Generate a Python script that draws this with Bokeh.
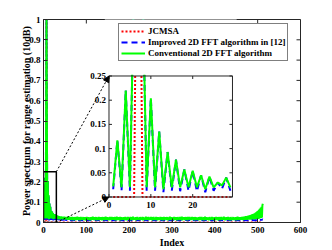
import numpy as np
from bokeh.plotting import figure
from bokeh.models import (Range1d, FixedTicker, Legend, LegendItem,
                          Arrow, NormalHead)
from bokeh.core.properties import value
from bokeh.embed import file_html
from bokeh.resources import INLINE

# ---------------- data ----------------
index = list(range(1, 513))

conventional_fft = [
    # 1-29 (main lobe + side lobes)
    0.022, 0.117, 0.020, 0.220, 0.020, 0.450, 1.000, 0.450, 0.020, 0.204,
    0.020, 0.135, 0.016, 0.093, 0.020, 0.077, 0.020, 0.057, 0.020, 0.054,
    0.020, 0.045, 0.016, 0.042, 0.020, 0.030, 0.024, 0.040, 0.020,
    # 30-60
    0.036, 0.018, 0.034, 0.017, 0.033, 0.019, 0.031, 0.016, 0.030, 0.018,
    0.029, 0.015, 0.030, 0.017, 0.028, 0.016, 0.027, 0.018, 0.029, 0.015,
    0.026, 0.017, 0.028, 0.014, 0.027, 0.016, 0.025, 0.015, 0.027, 0.013,
    0.026,
    # 61-460 noise floor
    0.025,0.014,0.027,0.012,0.023,0.015,0.028,0.013,0.024,0.011,0.026,0.016,0.022,0.013,0.027,0.012,0.025,0.015,0.029,0.014,
    0.023,0.012,0.026,0.015,0.024,0.011,0.028,0.014,0.022,0.013,0.025,0.016,0.027,0.012,0.023,0.014,0.026,0.011,0.024,0.015,
    0.028,0.013,0.022,0.014,0.026,0.012,0.025,0.016,0.023,0.011,0.027,0.014,0.024,0.013,0.029,0.015,0.022,0.012,0.026,0.014,
    0.024,0.016,0.027,0.011,0.025,0.013,0.023,0.015,0.028,0.012,0.022,0.014,0.026,0.016,0.024,0.011,0.027,0.013,0.025,0.012,
    0.026,0.015,0.023,0.012,0.029,0.014,0.024,0.013,0.026,0.016,0.022,0.011,0.025,0.014,0.028,0.012,0.023,0.015,0.027,0.013,
    0.022,0.014,0.026,0.013,0.024,0.015,0.027,0.011,0.025,0.014,0.029,0.012,0.023,0.016,0.026,0.013,0.024,0.011,0.028,0.015,
    0.027,0.012,0.025,0.016,0.022,0.013,0.026,0.014,0.024,0.012,0.028,0.015,0.025,0.011,0.023,0.014,0.027,0.016,0.022,0.013,
    0.025,0.011,0.028,0.014,0.023,0.015,0.026,0.012,0.029,0.013,0.024,0.016,0.022,0.014,0.026,0.011,0.025,0.013,0.027,0.015,
    0.023,0.016,0.024,0.012,0.027,0.014,0.022,0.013,0.025,0.015,0.028,0.011,0.026,0.014,0.024,0.016,0.023,0.012,0.029,0.013,
    0.026,0.013,0.022,0.015,0.028,0.012,0.025,0.014,0.023,0.016,0.027,0.013,0.024,0.011,0.026,0.015,0.028,0.014,0.022,0.012,
    0.024,0.015,0.027,0.013,0.022,0.011,0.026,0.016,0.025,0.014,0.023,0.012,0.028,0.015,0.024,0.013,0.027,0.011,0.025,0.016,
    0.028,0.012,0.024,0.014,0.026,0.015,0.022,0.013,0.027,0.011,0.025,0.016,0.023,0.014,0.029,0.012,0.024,0.015,0.026,0.013,
    0.022,0.014,0.025,0.016,0.028,0.012,0.024,0.013,0.026,0.015,0.022,0.011,0.027,0.014,0.025,0.016,0.023,0.012,0.028,0.014,
    0.025,0.013,0.029,0.011,0.023,0.016,0.026,0.014,0.024,0.012,0.027,0.015,0.022,0.013,0.026,0.011,0.028,0.016,0.024,0.014,
    0.027,0.015,0.023,0.012,0.025,0.014,0.028,0.016,0.022,0.013,0.026,0.011,0.024,0.015,0.027,0.012,0.023,0.014,0.025,0.016,
    0.023,0.011,0.026,0.015,0.027,0.013,0.024,0.012,0.028,0.016,0.025,0.014,0.022,0.011,0.026,0.015,0.029,0.013,0.023,0.012,
    0.026,0.016,0.022,0.013,0.024,0.011,0.027,0.015,0.025,0.012,0.023,0.014,0.028,0.016,0.022,0.013,0.025,0.011,0.027,0.015,
    0.024,0.012,0.028,0.014,0.026,0.016,0.023,0.011,0.027,0.015,0.024,0.013,0.026,0.012,0.028,0.014,0.022,0.016,0.025,0.013,
    0.029,0.014,0.025,0.011,0.022,0.015,0.026,0.013,0.024,0.016,0.028,0.012,0.023,0.015,0.025,0.011,0.027,0.014,0.024,0.012,
    0.023,0.015,0.027,0.012,0.025,0.014,0.022,0.016,0.026,0.011,0.024,0.013,0.029,0.015,0.023,0.012,0.026,0.014,0.025,0.013,
    # 461-512 rise at the end of the spectrum
    0.026,0.013,0.027,0.014,0.028,0.012,0.029,0.015,0.029,0.013,
    0.030,0.014,0.031,0.013,0.032,0.015,0.033,0.014,0.034,0.015,
    0.035,0.014,0.037,0.016,0.038,0.015,0.040,0.016,0.041,0.015,
    0.043,0.017,0.045,0.016,0.048,0.018,0.051,0.017,0.055,0.019,
    0.058,0.018,0.062,0.020,0.067,0.021,0.072,0.022,0.078,0.024,
    0.084,0.092,
]

improved_fft = [
    # 1-29
    0.016, 0.117, 0.013, 0.220, 0.013, 0.450, 1.000, 0.450, 0.013, 0.204,
    0.013, 0.135, 0.010, 0.093, 0.013, 0.077, 0.012, 0.057, 0.013, 0.054,
    0.012, 0.045, 0.010, 0.042, 0.013, 0.030, 0.017, 0.040, 0.013,
    # 30-60
    0.034, 0.011, 0.032, 0.010, 0.030, 0.012, 0.028, 0.010, 0.026, 0.011,
    0.024, 0.010, 0.022, 0.011, 0.020, 0.010, 0.018, 0.011, 0.017, 0.010,
    0.016, 0.011, 0.015, 0.010, 0.014, 0.011, 0.013, 0.010, 0.013, 0.011,
    0.012,
    # 61-500
    0.012,0.011,0.012,0.010,0.013,0.011,0.012,0.011,0.011,0.010,0.012,0.011,0.013,0.011,0.012,0.010,0.012,0.011,0.012,0.011,
    0.011,0.010,0.012,0.011,0.012,0.011,0.013,0.010,0.012,0.011,0.011,0.010,0.012,0.012,0.011,0.010,0.012,0.011,0.013,0.011,
    0.012,0.010,0.011,0.011,0.013,0.012,0.011,0.010,0.012,0.011,0.012,0.010,0.011,0.011,0.013,0.011,0.012,0.010,0.011,0.012,
    0.013,0.011,0.012,0.010,0.011,0.011,0.012,0.012,0.013,0.010,0.011,0.011,0.012,0.010,0.012,0.011,0.013,0.011,0.011,0.010,
    0.012,0.011,0.011,0.012,0.013,0.010,0.012,0.011,0.012,0.011,0.011,0.010,0.013,0.011,0.012,0.012,0.011,0.010,0.012,0.011,
    0.011,0.012,0.013,0.010,0.012,0.011,0.011,0.011,0.012,0.010,0.013,0.012,0.011,0.010,0.012,0.011,0.012,0.011,0.013,0.010,
    0.012,0.011,0.012,0.010,0.011,0.012,0.013,0.011,0.012,0.010,0.011,0.011,0.012,0.012,0.013,0.010,0.012,0.011,0.011,0.010,
    0.013,0.010,0.012,0.011,0.012,0.011,0.011,0.010,0.012,0.012,0.013,0.011,0.011,0.010,0.012,0.011,0.012,0.010,0.013,0.011,
    0.011,0.011,0.012,0.010,0.013,0.012,0.012,0.011,0.011,0.010,0.012,0.011,0.013,0.010,0.012,0.012,0.011,0.011,0.012,0.010,
    0.012,0.010,0.013,0.011,0.011,0.011,0.012,0.012,0.013,0.010,0.012,0.011,0.011,0.010,0.012,0.011,0.013,0.012,0.011,0.010,
    0.013,0.011,0.011,0.010,0.012,0.012,0.012,0.011,0.013,0.010,0.011,0.011,0.012,0.011,0.012,0.010,0.013,0.011,0.012,0.012,
    0.011,0.010,0.012,0.011,0.013,0.011,0.012,0.010,0.011,0.012,0.012,0.011,0.013,0.010,0.011,0.011,0.012,0.012,0.011,0.010,
    0.012,0.011,0.013,0.012,0.011,0.010,0.012,0.011,0.012,0.011,0.013,0.010,0.011,0.012,0.012,0.011,0.011,0.010,0.013,0.011,
    0.012,0.012,0.011,0.010,0.013,0.011,0.012,0.011,0.011,0.010,0.012,0.012,0.013,0.011,0.012,0.010,0.011,0.011,0.012,0.011,
    0.013,0.010,0.012,0.011,0.011,0.012,0.012,0.010,0.013,0.011,0.011,0.011,0.012,0.010,0.012,0.012,0.013,0.011,0.011,0.010,
    0.011,0.011,0.012,0.010,0.013,0.011,0.012,0.012,0.011,0.010,0.012,0.011,0.013,0.011,0.012,0.010,0.011,0.012,0.012,0.011,
    0.012,0.010,0.011,0.011,0.013,0.012,0.012,0.010,0.011,0.011,0.012,0.011,0.013,0.010,0.012,0.011,0.011,0.012,0.013,0.011,
    0.013,0.011,0.012,0.010,0.011,0.011,0.012,0.012,0.013,0.010,0.011,0.011,0.012,0.010,0.012,0.011,0.013,0.012,0.011,0.010,
    0.011,0.012,0.013,0.011,0.012,0.010,0.011,0.011,0.012,0.012,0.013,0.010,0.012,0.011,0.011,0.010,0.012,0.011,0.013,0.011,
    0.012,0.011,0.011,0.010,0.013,0.012,0.012,0.011,0.011,0.010,0.012,0.011,0.013,0.011,0.012,0.012,0.011,0.010,0.012,0.011,
    0.011,0.010,0.012,0.012,0.013,0.011,0.012,0.010,0.011,0.011,0.012,0.011,0.013,0.010,0.012,0.012,0.011,0.011,0.012,0.010,
    0.013,0.011,0.012,0.011,0.011,0.010,0.012,0.012,0.013,0.011,0.011,0.010,0.012,0.011,0.012,0.010,0.013,0.012,0.011,0.011,
    # 501-512
    0.012,0.011,0.013,0.012,0.013,0.012,0.014,0.012,0.014,0.013,0.015,0.014,
]

jcmsa = [0.0] * 6 + [1.0] + [0.0] * 505

assert len(conventional_fft) == 512, len(conventional_fft)
assert len(improved_fft) == 512, len(improved_fft)

series_labels = ["JCMSA", "Improved 2D FFT algorithm in [12]", "Conventional 2D FFT algorithm"]

x_ticks = [0, 100, 200, 300, 400, 500, 600]
x_tick_labels = ["0", "100", "200", "300", "400", "500", "600"]
y_ticks = [0, 0.1, 0.2, 0.3, 0.4, 0.5, 0.6, 0.7, 0.8, 0.9, 1]
y_tick_labels = ["0", "0.1", "0.2", "0.3", "0.4", "0.5", "0.6", "0.7", "0.8", "0.9", "1"]
x_lim = (0, 600)
y_lim = (0, 1)

inset_n = 29                     # points shown in the inset
inset_xlim = (0, 29.5)
inset_ylim = (0, 0.25)
inset_x_ticks = [0, 10, 20]
inset_x_tick_labels = ["0", "10", "20"]
inset_y_ticks = [0, 0.05, 0.1, 0.15, 0.2, 0.25]
inset_y_tick_labels = ["0", "0.05", "0.1", "0.15", "0.2", "0.25"]
zoom_box = (0, 30, 0, 0.25)      # region of the main plot that is magnified

# ---------------- styling ----------------
AX = "#262626"
FONT = "Liberation Serif"
RED, BLUE, GREEN = "#ff0000", "#0000ff", "#00ff00"

# where the inset sits, in main-plot data units
inset_x_target = (152.9, 441.2)
inset_y_target = (0.1256, 0.7217)

p = figure(width=332, height=250, x_range=Range1d(*x_lim), y_range=Range1d(*y_lim),
           output_backend="svg", toolbar_location=None,
           min_border_left=43, min_border_right=32, min_border_top=19, min_border_bottom=28)
p.xgrid.visible = False
p.ygrid.visible = False
p.outline_line_color = AX
p.background_fill_color = "white"
p.border_fill_color = "white"


def style_axis(ax):
    ax.axis_line_color = AX
    ax.axis_line_width = 1
    ax.major_tick_line_color = AX
    ax.major_tick_in = 4
    ax.major_tick_out = 0
    ax.minor_tick_line_color = None
    ax.major_label_text_font = FONT
    ax.major_label_text_font_style = "bold"
    ax.major_label_text_color = "black"
    ax.major_label_text_font_size = "9px"
    ax.axis_label_text_font = FONT
    ax.axis_label_text_font_style = "bold"
    ax.axis_label_text_font_size = "10px"
    ax.axis_label_text_color = "black"


xb = p.below[0]
yl = p.left[0]
xb.ticker = FixedTicker(ticks=x_ticks)
yl.ticker = FixedTicker(ticks=y_ticks)
xb.major_label_overrides = dict(zip(x_ticks, x_tick_labels))
yl.major_label_overrides = dict(zip(y_ticks, y_tick_labels))
style_axis(xb)
style_axis(yl)
xb.axis_label = "Index"
yl.axis_label = "Power spectrum for range estimation (10dB)"
xb.major_label_standoff = 4
xb.axis_label_standoff = 1
yl.major_label_standoff = 3
yl.axis_label_standoff = -6

# inward ticks on the top and right edges of the box
p.ray(x=x_ticks, y=[y_lim[1]] * len(x_ticks), length=4, length_units="screen",
      angle=-np.pi / 2, line_color=AX)
p.ray(x=[x_lim[1]] * len(y_ticks), y=y_ticks, length=4, length_units="screen",
      angle=np.pi, line_color=AX)

# main curves
r_red = p.line(index, jcmsa, line_color=RED, line_width=2, line_dash="2 2")
r_blue = p.line(index, improved_fft, line_color=BLUE, line_width=2, line_dash="6 4")
r_green = p.line(index, conventional_fft, line_color=GREEN, line_width=2)

# zoom rectangle
p.quad(left=[zoom_box[0]], right=[zoom_box[1]], bottom=[zoom_box[2]], top=[zoom_box[3]],
       fill_color=None, line_color="black", line_width=1.5)

# ---------------- inset ----------------
sub = p.subplot(x_source=Range1d(*inset_xlim), y_source=Range1d(*inset_ylim),
                x_target=Range1d(*inset_x_target), y_target=Range1d(*inset_y_target))
sub.line(index[:inset_n], improved_fft[:inset_n], line_color=BLUE, line_width=2, line_dash="6 4")
sub.line(index[:inset_n], conventional_fft[:inset_n], line_color=GREEN, line_width=2)
sub.line(index[:inset_n], jcmsa[:inset_n], line_color=RED, line_width=2, line_dash="2 2")
# hide the part of the curves above the inset's y-limit
sub.quad(left=[inset_xlim[0] - 1], right=[inset_xlim[1] + 1], bottom=[inset_ylim[1] * 1.01],
         top=[inset_ylim[1] * 6], fill_color="white", line_color=None)
sub.quad(left=[inset_xlim[0]], right=[inset_xlim[1]], bottom=[inset_ylim[0]], top=[inset_ylim[1]],
         fill_color=None, line_color=AX, line_width=1)
# inset ticks (inward)
nx, ny = len(inset_x_ticks), len(inset_y_ticks)
sub.ray(x=inset_x_ticks, y=[inset_ylim[0]] * nx, length=3, length_units="screen",
        angle=np.pi / 2, line_color=AX)
sub.ray(x=inset_x_ticks, y=[inset_ylim[1]] * nx, length=3, length_units="screen",
        angle=-np.pi / 2, line_color=AX)
sub.ray(x=[inset_xlim[0]] * ny, y=inset_y_ticks, length=3, length_units="screen",
        angle=0, line_color=AX)
sub.ray(x=[inset_xlim[1]] * ny, y=inset_y_ticks, length=3, length_units="screen",
        angle=np.pi, line_color=AX)
sub.text(x=inset_x_ticks, y=[inset_ylim[0]] * nx, text=inset_x_tick_labels,
         text_font=value(FONT), text_font_style="bold", text_font_size="9px",
         text_align="center", text_baseline="top", y_offset=5, text_color="black")
sub.text(x=[inset_xlim[0]] * ny, y=inset_y_ticks, text=inset_y_tick_labels,
         text_font=value(FONT), text_font_style="bold", text_font_size="9px",
         text_align="right", text_baseline="middle", x_offset=-3, text_color="black")

# dotted connector arrows
for (xs, ys, xe, ye) in [(zoom_box[1], zoom_box[3], inset_x_target[0], inset_y_target[1]),
                         (zoom_box[1], zoom_box[2], inset_x_target[0], inset_y_target[0])]:
    p.add_layout(Arrow(end=NormalHead(size=6, fill_color="black", line_color="black"),
                       x_start=xs, y_start=ys, x_end=xe, y_end=ye,
                       line_color="black", line_width=1, line_dash="2 2"))

# legend
legend = Legend(items=[LegendItem(label=series_labels[0], renderers=[r_red]),
                       LegendItem(label=series_labels[1], renderers=[r_blue]),
                       LegendItem(label=series_labels[2], renderers=[r_green])],
                location=(75, 161))
legend.label_text_font = FONT
legend.label_text_font_style = "bold"
legend.label_text_font_size = "9px"
legend.label_text_color = "black"
legend.glyph_width = 24
legend.glyph_height = 10
legend.label_height = 10
legend.label_standoff = 3
legend.spacing = 1
legend.padding = 2
legend.margin = 0
legend.border_line_color = "black"
legend.border_line_width = 1
legend.background_fill_color = "white"
legend.background_fill_alpha = 1
p.add_layout(legend)

open("out.html", "w").write(file_html(p, INLINE))
